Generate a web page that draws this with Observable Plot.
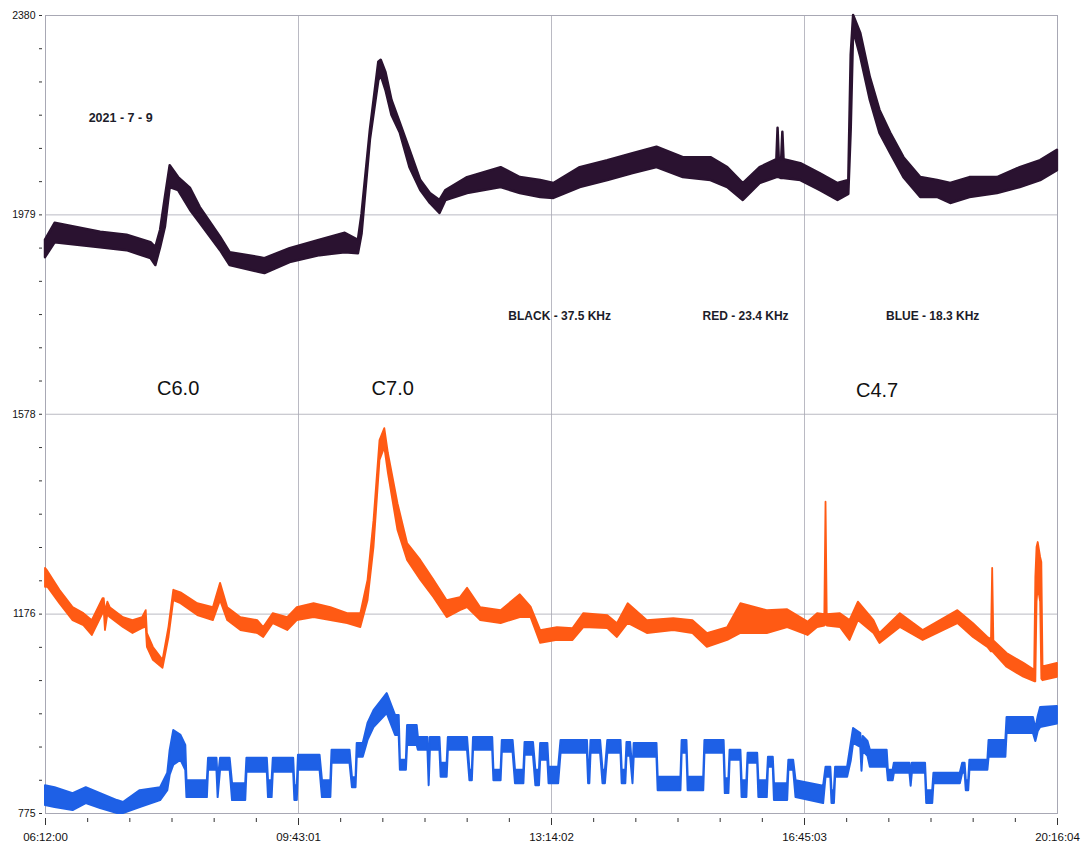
<!DOCTYPE html>
<html><head><meta charset="utf-8">
<script src="https://cdn.jsdelivr.net/npm/d3@7"></script>
<script src="https://cdn.jsdelivr.net/npm/@observablehq/plot@0.6"></script>
<style>
html,body{margin:0;padding:0;background:#fff;}
#chart svg{display:block;}
</style></head><body><div id="chart"></div>
<script>
// ---- axis ticks ----
const xTickLabels = ["06:12:00","09:43:01","13:14:02","16:45:03","20:16:04"];
const yTickValues = [775, 1176, 1578, 1979, 2380];

// ---- series: [time, low edge of trace, high edge of trace] ----
const black = [
["06:12",1893,1928],["06:20",1923,1962],["06:58",1913,1944],["07:20",1907,1938],
["07:40",1891,1923],["07:44",1877,1913],["07:48",1913,1948],["07:52",1954,2014],
["07:56",2034,2078],["08:03",2028,2054],["08:13",1988,2032],["08:21",1962,1994],
["08:38",1907,1934],["08:46",1877,1903],["09:11",1863,1893],["09:15",1861,1891],
["09:36",1883,1911],["10:01",1897,1928],["10:22",1903,1942],["10:33",1901,1928],
["10:36",1940,1980],["10:43",2130,2150],["10:50",2249,2286],["10:52",2259,2290],
["10:56",2229,2265],["11:01",2179,2209],["11:08",2143,2163],["11:16",2074,2109],
["11:25",2028,2048],["11:33",2002,2022],["11:41",1982,2008],["11:46",2008,2028],
["12:04",2022,2054],["12:32",2034,2074],["12:48",2022,2054],["13:05",2014,2048],
["13:16",2012,2042],["13:38",2034,2074],["14:01",2048,2088],["14:22",2062,2102],
["14:42",2074,2115],["15:04",2054,2094],["15:27",2048,2094],["15:41",2034,2074],
["15:54",2008,2042],["16:08",2042,2074],["16:22",2054,2090],["16:23",2054,2153],
["16:24",2054,2092],["16:26",2052,2090],["16:27",2052,2145],["16:28",2052,2090],
["16:42",2048,2082],["16:58",2028,2062],["17:13",2008,2042],["17:22",2020,2048],
["17:24",2150,2300],["17:26",2350,2380],["17:32",2296,2344],["17:40",2209,2255],
["17:48",2143,2189],["17:57",2102,2143],["18:08",2054,2094],["18:22",2014,2054],
["18:36",2014,2048],["18:47",2002,2042],["19:03",2014,2054],["19:26",2022,2054],
["19:45",2034,2074],["20:02",2048,2088],["20:16",2068,2109]
];

const red = [
["06:12",1230,1268],["06:14",1230,1262],["06:24",1197,1224],["06:35",1163,1189],
["06:44",1153,1177],["06:51",1133,1163],["07:00",1177,1207],["07:01",1183,1207],
["07:02",1143,1180],["07:04",1175,1200],["07:06",1169,1189],["07:17",1149,1169],
["07:25",1137,1163],["07:33",1147,1169],["07:36",1150,1183],["07:37",1109,1137],
["07:42",1083,1109],["07:50",1067,1083],["07:55",1129,1150],["07:59",1203,1224],
["08:05",1197,1219],["08:19",1173,1197],["08:32",1163,1189],["08:38",1203,1238],
["08:44",1163,1189],["08:55",1143,1169],["09:09",1137,1163],["09:14",1129,1149],
["09:22",1157,1177],["09:34",1143,1169],["09:42",1163,1189],["09:56",1169,1197],
["10:10",1163,1189],["10:24",1157,1177],["10:35",1149,1177],["10:41",1203,1244],
["10:46",1310,1364],["10:51",1485,1525],["10:55",1511,1549],["10:58",1459,1499],
["11:06",1344,1398],["11:14",1284,1318],["11:25",1244,1284],["11:36",1209,1244],
["11:47",1169,1203],["11:58",1183,1209],["12:04",1189,1228],["12:15",1163,1189],
["12:32",1157,1183],["12:48",1169,1215],["12:57",1169,1190],["13:05",1117,1143],
["13:19",1123,1149],["13:32",1123,1147],["13:41",1149,1177],["14:01",1147,1173],
["14:09",1129,1157],["14:18",1157,1197],["14:34",1137,1163],["14:56",1143,1167],
["15:12",1137,1163],["15:24",1109,1137],["15:41",1123,1149],["15:52",1137,1197],
["16:14",1137,1183],["16:31",1149,1185],["16:48",1133,1160],["16:56",1149,1177],
["17:02",1152,1175],["17:03",1155,1401],["17:04",1152,1175],["17:15",1149,1177],
["17:23",1123,1163],["17:30",1163,1200],["17:43",1137,1163],["17:48",1117,1137],
["18:05",1149,1177],["18:24",1123,1143],["18:53",1157,1183],["19:06",1129,1157],
["19:18",1109,1129],["19:21",1100,1125],["19:22",1100,1268],["19:23",1098,1122],
["19:34",1069,1097],["19:48",1049,1077],["19:57",1040,1063],["19:58",1040,1250],
["19:59",1200,1310],["20:00",1230,1320],["20:02",1200,1290],["20:03",1045,1280],
["20:04",1042,1070],["20:16",1049,1077]
];

const blue = [
["06:12",791,831],["06:20",787,827],["06:35",781,815],["06:46",795,827],
["06:58",785,815],["07:12",775,801],["07:17",775,797],["07:31",787,821],
["07:48",801,827],["07:54",821,856],["07:56",852,902],
["07:59",872,942],["08:05",882,932],["08:09",862,912],["08:10",807,841],
["08:27",807,841],["08:28",862,886],["08:35",862,886],["08:36",807,841],
["08:38",862,886],["08:46",862,886],["08:48",801,835],["08:59",801,835],
["09:00",858,886],["09:17",858,886],["09:18",807,841],["09:21",807,841],
["09:22",858,886],["09:39",858,886],["09:40",801,831],["09:42",801,831],
["09:43",862,892],["10:01",862,892],["10:03",807,841],["10:10",807,841],
["10:11",876,902],["10:26",876,902],["10:28",827,847],["10:31",827,847],
["10:32",888,916],["10:37",888,916],["10:41",922,956],["10:46",948,982],
["10:57",976,1016],["11:04",932,972],["11:07",932,972],["11:08",862,882],
["11:13",862,882],["11:14",912,952],["11:22",912,952],["11:23",902,928],
["11:31",902,928],["11:32",831,852],["11:33",902,928],["11:41",902,928],
["11:42",848,876],["11:47",848,876],["11:48",902,928],["12:04",902,928],
["12:06",841,862],["12:08",841,862],["12:09",902,928],["12:25",902,928],
["12:26",841,862],["12:32",841,862],["12:33",898,922],["12:42",898,922],
["12:44",835,862],["12:51",835,862],["12:52",892,918],["12:59",892,918],
["13:01",831,862],["13:04",831,862],["13:05",882,916],["13:11",882,916],
["13:12",835,868],["13:20",835,868],["13:22",896,922],["13:44",896,922],
["13:45",835,862],["13:46",835,862],["13:47",896,922],["13:55",896,922],
["13:57",835,862],["13:59",835,862],["14:01",896,922],["14:12",896,922],
["14:13",835,862],["14:16",835,862],["14:17",890,918],["14:20",890,918],
["14:22",835,855],["14:23",888,916],["14:42",888,916],["14:43",821,848],
["15:02",821,848],["15:03",896,922],["15:07",896,922],["15:08",821,848],
["15:21",821,848],["15:22",896,922],["15:38",896,922],["15:39",815,845],
["15:42",815,845],["15:43",882,902],["15:52",882,902],["15:53",807,841],
["15:57",807,841],["15:58",876,896],["16:06",876,896],["16:07",807,841],
["16:14",807,841],["16:15",868,888],["16:19",868,888],["16:20",801,835],
["16:31",801,835],["16:32",862,882],["16:36",862,882],["16:38",807,841],
["17:01",795,830],["17:03",848,868],["17:07",848,868],["17:08",795,821],
["17:10",795,821],["17:11",848,868],["17:21",848,868],["17:24",880,915],
["17:26",916,946],["17:32",908,936],["17:33",860,880],["17:34",900,930],
["17:38",890,920],["17:40",868,902],["17:54",868,902],["17:55",841,862],
["17:59",841,862],["18:00",856,876],["18:13",856,876],["18:14",830,850],
["18:15",856,876],["18:26",856,876],["18:27",795,821],["18:32",795,821],
["18:33",835,856],["18:55",835,856],["18:57",856,876],["18:59",856,876],
["19:00",821,841],["19:02",821,841],["19:03",862,882],["19:18",862,882],
["19:19",888,922],["19:33",888,922],["19:34",936,968],["19:56",936,968],
["19:58",920,945],["20:00",940,970],["20:02",948,988],["20:16",955,990]
];

// ---- annotations: [text, time, value] ----
const dateLabel = [["2021 - 7 - 9","06:48",2173]];
const seriesLabels = [["BLACK - 37.5 KHz","12:38",1775],["RED - 23.4 KHz","15:20",1775],["BLUE - 18.3 KHz","17:53",1775]];
const flareLabels = [["C6.0","07:45",1630],["C7.0","10:44",1630],["C4.7","17:28",1626]];

// ---- helpers ----
const toSec = s => { const p = s.split(":").map(Number); return p[0]*3600 + p[1]*60 + (p[2]||0); };
const rows = arr => arr.map(([t, lo, hi]) => ({t: toSec(t), lo, hi}));
const xMajor = xTickLabels.map(toSec);
const subdivide = (maj, n) => { const out = []; for (let i = 0; i < maj.length - 1; i++) for (let j = 1; j < n; j++) out.push(maj[i] + j*(maj[i+1]-maj[i])/n); return out; };
const xMinor = subdivide(xMajor, 6);
const yMinor = subdivide(yTickValues, 6);
const ann = arr => arr.map(([text, t, v]) => ({text, t: toSec(t), v}));

const gridColor = "#a8a8b4";
const colBlack = "#2a1230", colRed = "#ff5a14", colBlue = "#1e60e6";

const chart = Plot.plot({
  width: 1083, height: 844,
  marginLeft: 45, marginRight: 26, marginTop: 15, marginBottom: 31,
  x: {type: "linear", domain: [xMajor[0], xMajor[xMajor.length-1]]},
  y: {domain: [775, 2380]},
  style: {fontFamily: "'Liberation Sans', Arial, sans-serif", fontSize: "11px", color: "#111", background: "#fff"},
  marks: [
    Plot.gridX(xMajor.slice(1, -1), {stroke: gridColor, strokeOpacity: 1, strokeWidth: 0.8}),
    Plot.gridY(yTickValues.slice(1, -1), {stroke: gridColor, strokeOpacity: 1, strokeWidth: 0.8}),
    Plot.frame({stroke: gridColor, strokeWidth: 1}),
    Plot.areaY(rows(black), {x: "t", y1: "lo", y2: "hi", fill: colBlack, stroke: colBlack, strokeWidth: 2.5, strokeLinejoin: "round", curve: "linear"}),
    Plot.areaY(rows(red), {x: "t", y1: "lo", y2: "hi", fill: colRed, stroke: colRed, strokeWidth: 1.8, strokeLinejoin: "round", curve: "linear"}),
    Plot.areaY(rows(blue), {x: "t", y1: "lo", y2: "hi", fill: colBlue, stroke: colBlue, strokeWidth: 2, strokeLinejoin: "round", curve: "linear"}),
    Plot.axisY(yTickValues, {tickSize: 3, dx: -3, tickPadding: 4, label: null, fontSize: 10.5, tickFormat: d => String(d), stroke: "#333", fill: "#111"}),
    Plot.axisY(yMinor, {tickSize: 3, dx: -3, label: null, tickFormat: () => "", stroke: "#333"}),
    Plot.axisX(xMajor, {tickSize: 7, dy: 5, tickPadding: 7, label: null, fontSize: 11.5, tickFormat: d => xTickLabels[xMajor.indexOf(d)], stroke: "#333", fill: "#111"}),
    Plot.axisX(xMinor, {tickSize: 4, dy: 5, label: null, tickFormat: () => "", stroke: "#333"}),
    Plot.text(ann(dateLabel), {x: "t", y: "v", text: "text", textAnchor: "start", fontSize: 12.5, fontWeight: "bold", fill: "#1c1c2a"}),
    Plot.text(ann(seriesLabels), {x: "t", y: "v", text: "text", textAnchor: "start", fontSize: 12, fontWeight: "bold", fill: "#1c1c2a"}),
    Plot.text(ann(flareLabels), {x: "t", y: "v", text: "text", textAnchor: "start", fontSize: 20, fill: "#111"})
  ]
});
document.getElementById("chart").appendChild(chart);
</script>
</body></html>
